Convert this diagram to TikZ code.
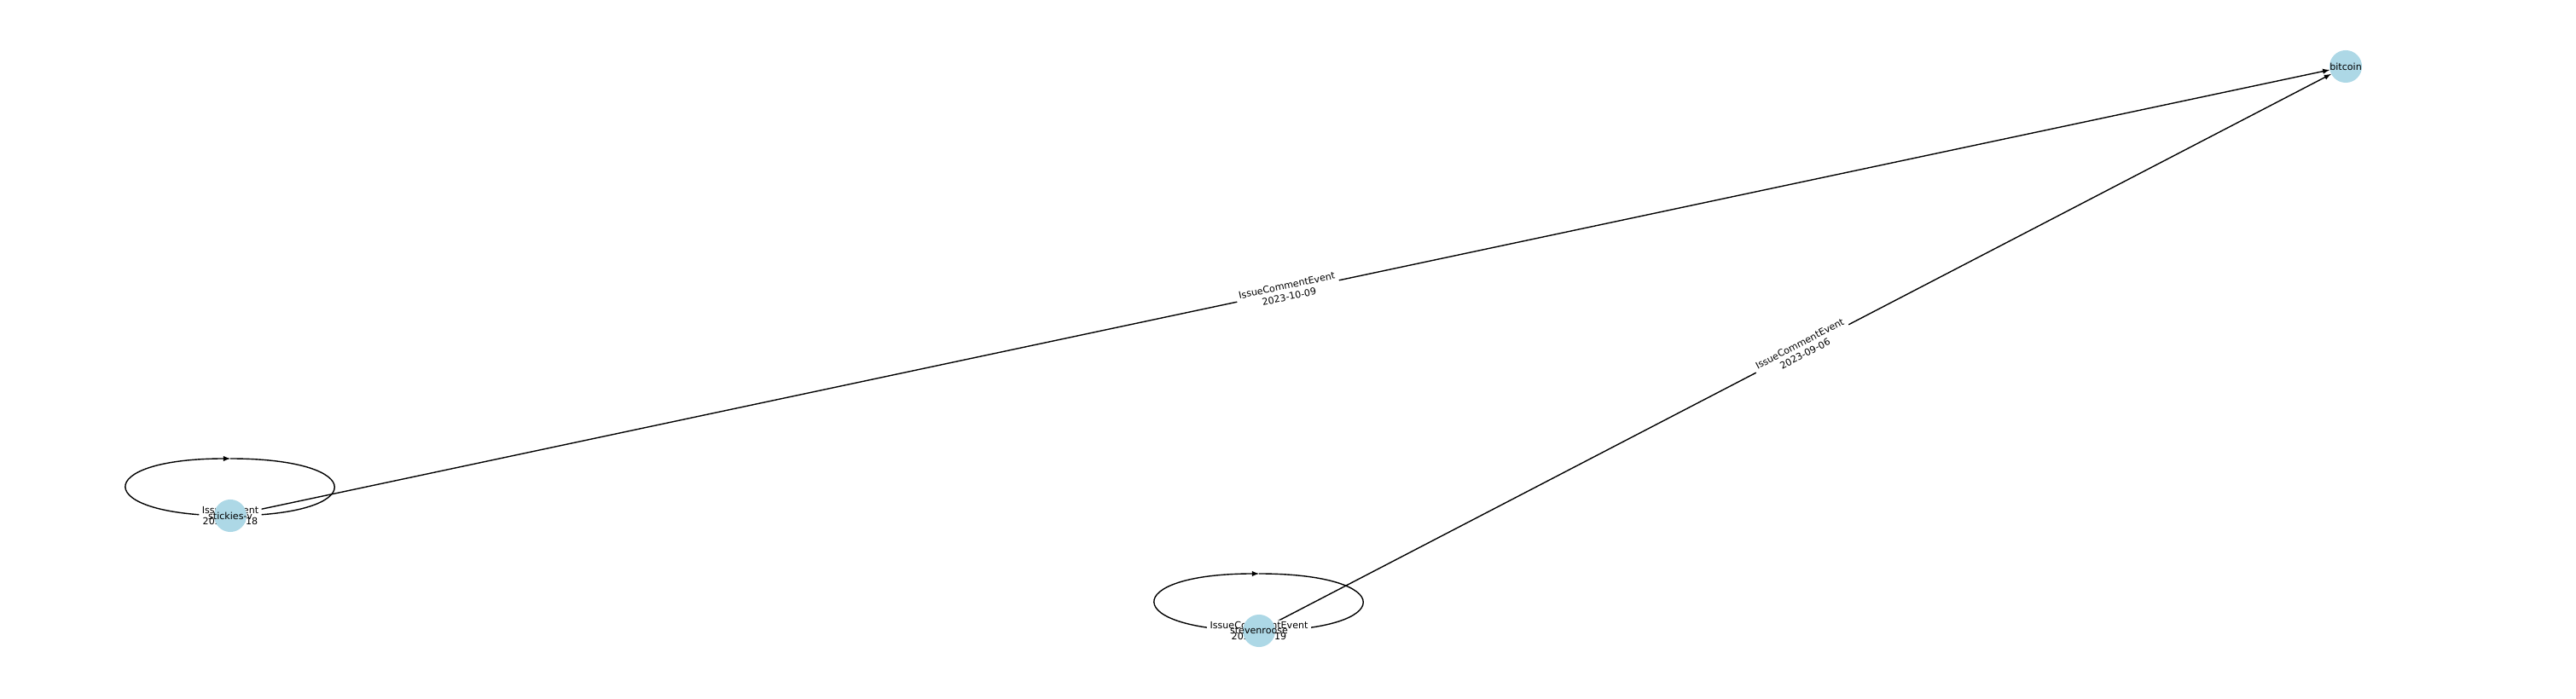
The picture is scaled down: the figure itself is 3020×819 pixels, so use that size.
\documentclass[tikz,border=0pt]{standalone}
\usepackage{fontspec}
\setmainfont{DejaVu Sans}
\usetikzlibrary{positioning,backgrounds}
\definecolor{nodeblue}{HTML}{ADD8E6}

\begin{document}
\begin{tikzpicture}
        [x=0.72pt,y=0.72pt,>=latex,
         every node/.style={font=\fontsize{8}{9.6}\selectfont},
         vertex/.style={circle,fill=nodeblue,minimum size=27.4pt,inner sep=0pt},
         elabel/.style={fill=white,rounded corners=2pt,inner xsep=2.5pt,inner ysep=1pt,align=center},
         edge/.style={line width=1pt}]
        \useasboundingbox (0,0) rectangle (3020,819);
        \node[vertex,label=center:bitcoin] (btc) at (2750,741) {};
        \node[vertex,label=center:stickies-v] (sv) at (270,214) {};
        \node[vertex,label=center:stevenroose] (sr) at (1476,79) {};
        \coordinate (svtop) at (270,281);
        \coordinate (srtop) at (1476,146);

        \begin{scope}[on background layer]
        \foreach \from/\to/\txt in {sv/btc/{IssueCommentEvent\\2023-10-09}, sr/btc/{IssueCommentEvent\\2023-09-06}}
            \draw[edge,->] (\from) -- node[elabel,sloped] {\txt} (\to);

        % self loops
        \draw[edge,->] (sv.center) .. controls +(-163,0) and +(-163,0) .. (svtop);
        \draw[edge] (svtop) .. controls +(163,0) and +(163,0) .. (sv.center) node[elabel] {IssuesEvent\\2023-10-18};
        \draw[edge,->] (sr.center) .. controls +(-163,0) and +(-163,0) .. (srtop);
        \draw[edge] (srtop) .. controls +(163,0) and +(163,0) .. (sr.center) node[elabel] {IssueCommentEvent\\2023-09-19};
        \end{scope}
      \end{tikzpicture}
\end{document}
